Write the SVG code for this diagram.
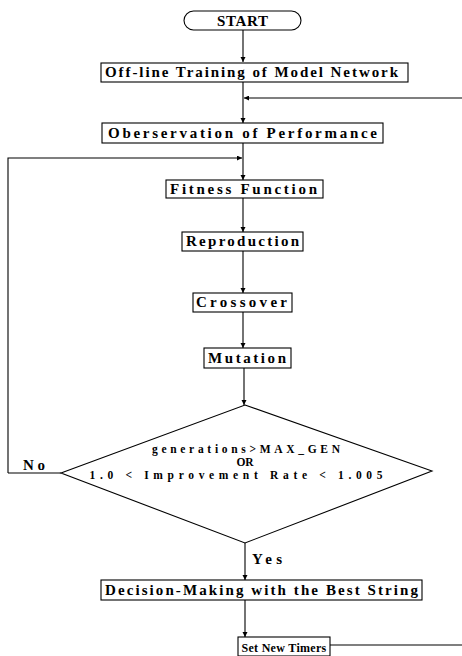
<svg xmlns="http://www.w3.org/2000/svg" width="462" height="656" viewBox="0 0 462 656">
<style>
.b{fill:#fff;stroke:#000;stroke-width:1.1}
.c{fill:none;stroke:#000;stroke-width:1.1}
text{font-family:"Liberation Serif","DejaVu Serif",serif;font-weight:bold;font-size:15px;fill:#000}
.m{text-anchor:middle}
.d{font-size:11.5px}
</style>
<defs>
<marker id="a" viewBox="0 0 10 10" refX="10" refY="5" markerWidth="5" markerHeight="9" markerUnits="userSpaceOnUse" orient="auto">
<path d="M0,0L10,5L0,10z" fill="#000"/>
</marker>
<marker id="ah" viewBox="0 0 10 10" refX="10" refY="5" markerWidth="9" markerHeight="5" markerUnits="userSpaceOnUse" orient="auto">
<path d="M0,0L10,5L0,10z" fill="#000"/>
</marker>
</defs>
<g id="connectors">
<path class="c" d="M243,30V62" marker-end="url(#a)"/>
<path class="c" d="M243,82V123" marker-end="url(#a)"/>
<path class="c" d="M462,98H244" marker-end="url(#ah)"/>
<path class="c" d="M243,143V180" marker-end="url(#a)"/>
<path class="c" d="M8,473V158H242" marker-end="url(#ah)"/>
<path class="c" d="M61,473H8"/>
<path class="c" d="M243,198V232" marker-end="url(#a)"/>
<path class="c" d="M243,251V293" marker-end="url(#a)"/>
<path class="c" d="M243,312V348" marker-end="url(#a)"/>
<path class="c" d="M244,368V405" marker-end="url(#a)"/>
<path class="c" d="M245,543V580" marker-end="url(#a)"/>
<path class="c" d="M245,600V637" marker-end="url(#a)"/>
<path class="c" d="M330,645H462"/>
</g>
<g id="start">
<rect class="b" x="184" y="11" width="117" height="19" rx="9.5"/>
<text x="242.5" y="26" class="m" textLength="51" lengthAdjust="spacing">START</text>
</g>
<g id="offline">
<rect class="b" x="101" y="63" width="307" height="19"/>
<text x="105" y="77" textLength="293" lengthAdjust="spacing">Off-line Training of Model Network</text>
</g>
<g id="observation">
<rect class="b" x="102" y="123" width="281" height="20"/>
<text x="108" y="138" textLength="269" lengthAdjust="spacing">Oberservation of Performance</text>
</g>
<g id="fitness">
<rect class="b" x="166" y="180" width="157" height="18"/>
<text x="170" y="194" textLength="147" lengthAdjust="spacing">Fitness Function</text>
</g>
<g id="reproduction">
<rect class="b" x="182" y="232" width="121" height="19"/>
<text x="186" y="246" textLength="113" lengthAdjust="spacing">Reproduction</text>
</g>
<g id="crossover">
<rect class="b" x="193" y="293" width="99" height="19"/>
<text x="196" y="307" textLength="91" lengthAdjust="spacing">Crossover</text>
</g>
<g id="mutation">
<rect class="b" x="204" y="348" width="87" height="20"/>
<text x="208" y="363" textLength="78" lengthAdjust="spacing">Mutation</text>
</g>
<g id="decision">
<polygon class="b" points="245,405 432,471 245,543 61,473"/>
<text x="246" y="453" class="m d" textLength="188" lengthAdjust="spacing">generations&gt;MAX_GEN</text>
<text x="245" y="466" class="m d">OR</text>
<text x="236" y="479" class="m d" textLength="293" lengthAdjust="spacing">1.0 &lt; Improvement Rate &lt; 1.005</text>
</g>
<g id="labels">
<text x="23" y="470" textLength="22" lengthAdjust="spacing">No</text>
<text x="252" y="564" textLength="30" lengthAdjust="spacing">Yes</text>
</g>
<g id="decision-making">
<rect class="b" x="101" y="580" width="321" height="20"/>
<text x="105" y="595" textLength="313" lengthAdjust="spacing">Decision-Making with the Best String</text>
</g>
<g id="timers">
<rect class="b" x="238" y="637" width="92" height="19"/>
<text x="284" y="651.5" class="m" style="font-size:12px;letter-spacing:0.3px">Set New Timers</text>
</g>
</svg>
